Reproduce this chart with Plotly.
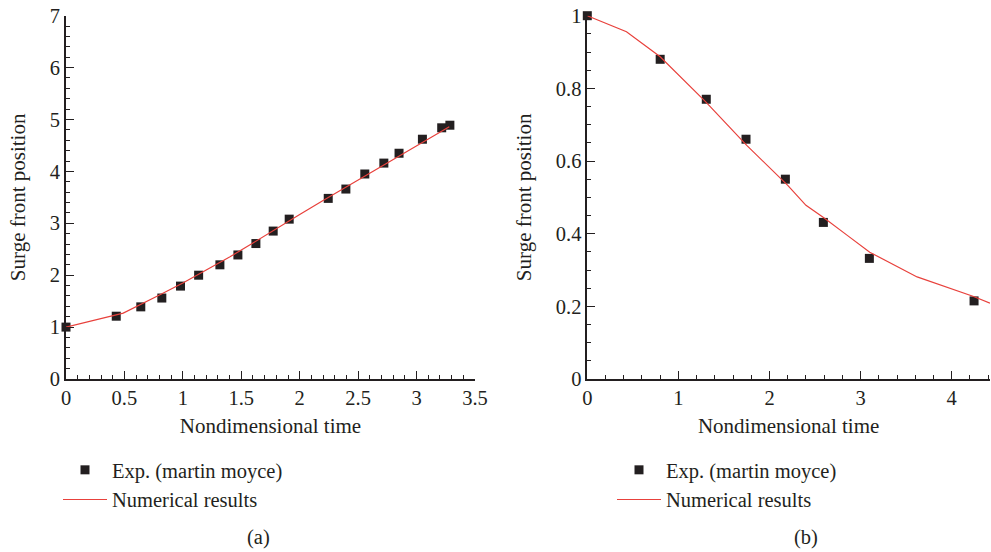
import plotly.graph_objects as go

# ---- data: panel (a)
exp_a_t = [0.0, 0.43, 0.64, 0.82, 0.98, 1.135, 1.317, 1.471, 1.625, 1.773, 1.91,
           2.244, 2.395, 2.557, 2.72, 2.85, 3.05, 3.215, 3.285]
exp_a_y = [1.0, 1.21, 1.39, 1.56, 1.79, 2.0, 2.2, 2.39, 2.61, 2.85, 3.08,
           3.48, 3.66, 3.95, 4.16, 4.35, 4.62, 4.84, 4.89]
num_a_t = [0.0, 0.49, 0.8, 1.0, 1.2, 1.4, 1.6, 1.8, 2.0, 2.2, 2.4, 2.6, 2.8, 3.0, 3.2, 3.28]
num_a_y = [1.0, 1.27, 1.62, 1.85, 2.1, 2.35, 2.62, 2.9, 3.17, 3.44, 3.7, 3.96, 4.22, 4.48, 4.74, 4.86]

# ---- data: panel (b)
exp_b_t = [0.0, 0.80, 1.306, 1.742, 2.174, 2.591, 3.096, 4.245]
exp_b_y = [1.0, 0.88, 0.77, 0.66, 0.55, 0.431, 0.332, 0.215]
num_b_t = [0.0, 0.43, 0.8, 1.3, 1.75, 2.2, 2.4, 2.6, 2.85, 3.1, 3.62, 4.24, 4.42]
num_b_y = [1.0, 0.956, 0.887, 0.763, 0.643, 0.533, 0.478, 0.443, 0.396, 0.349, 0.281, 0.227, 0.209]

labels_exp = "Exp. (martin moyce)"
labels_num = "Numerical results"
panel_labels = ["(a)", "(b)"]
x_title = "Nondimensional time"
y_title = "Surge front position"

INK = "#231f20"
RED = "#e8413c"
FONT = "Liberation Serif, Times New Roman, serif"
TICK_SIZE = 20.5
TITLE_SIZE = 21
LEG_SIZE = 20.5

fig = go.Figure()
fig.add_trace(go.Scatter(x=exp_a_t, y=exp_a_y, mode="markers", name=labels_exp,
                         marker=dict(symbol="square", size=9, color=INK),
                         cliponaxis=False, xaxis="x", yaxis="y", legend="legend"))
fig.add_trace(go.Scatter(x=num_a_t, y=num_a_y, mode="lines", name=labels_num,
                         line=dict(color=RED, width=1.2),
                         xaxis="x", yaxis="y", legend="legend"))
fig.add_trace(go.Scatter(x=exp_b_t, y=exp_b_y, mode="markers", name=labels_exp,
                         marker=dict(symbol="square", size=9, color=INK),
                         cliponaxis=False, xaxis="x2", yaxis="y2", legend="legend2"))
fig.add_trace(go.Scatter(x=num_b_t, y=num_b_y, mode="lines", name=labels_num,
                         line=dict(color=RED, width=1.2), cliponaxis=False,
                         xaxis="x2", yaxis="y2", legend="legend2"))

W, H = 991, 552
ydom = [(H - 379) / H, (H - 15.7) / H]

def common(rng, dtick, mdtick, anchor):
    return dict(range=rng, anchor=anchor, dtick=dtick, tick0=0, automargin=False,
                showline=True, linecolor=INK, linewidth=1.6, mirror=False,
                ticks="inside", ticklen=8, tickwidth=1.3, tickcolor=INK,
                minor=dict(dtick=mdtick, tick0=0, ticks="inside", ticklen=4,
                           tickwidth=1.1, tickcolor=INK, showgrid=False),
                showgrid=False, zeroline=False,
                tickfont=dict(family=FONT, size=TICK_SIZE, color=INK),
                fixedrange=True)

def xax(domain, rng, dtick, mdtick, anchor):
    d = common(rng, dtick, mdtick, anchor)
    d.update(domain=domain,
             title=dict(text=x_title, font=dict(family=FONT, size=TITLE_SIZE, color=INK), standoff=10))
    return d

def yax(rng, dtick, mdtick, anchor):
    d = common(rng, dtick, mdtick, anchor)
    d.update(domain=ydom,
             title=dict(text=y_title, font=dict(family=FONT, size=TITLE_SIZE, color=INK), standoff=18))
    return d

leg_common = dict(xanchor="left", yanchor="top", font=dict(family=FONT, size=LEG_SIZE, color=INK),
                  bgcolor="rgba(0,0,0,0)", tracegroupgap=0, itemwidth=44)

fig.update_layout(
    width=W, height=H,
    margin=dict(l=0, r=0, t=0, b=0),
    paper_bgcolor="white", plot_bgcolor="white",
    font=dict(family=FONT, size=LEG_SIZE, color=INK),
    xaxis=xax([66 / W, 475 / W], [0, 3.5], 0.5, 0.1, "y"),
    yaxis=yax([0, 7], 1, 0.2, "x"),
    xaxis2=xax([587.3 / W, 990 / W], [0, 4.42], 1, 0.2, "y2"),
    yaxis2=yax([0, 1], 0.2, 0.05, "x2"),
    legend=dict(x=58 / W, y=(H - 450) / H, **leg_common),
    legend2=dict(x=612 / W, y=(H - 450) / H, **leg_common),
    showlegend=True,
    annotations=[
        dict(text=panel_labels[0], x=258 / W, y=(H - 537) / H, xref="paper", yref="paper",
             xanchor="center", yanchor="middle",
             showarrow=False, font=dict(family=FONT, size=LEG_SIZE, color=INK)),
        dict(text=panel_labels[1], x=806 / W, y=(H - 537) / H, xref="paper", yref="paper",
             xanchor="center", yanchor="middle",
             showarrow=False, font=dict(family=FONT, size=LEG_SIZE, color=INK)),
    ],
)

fig.write_html("out.html")
